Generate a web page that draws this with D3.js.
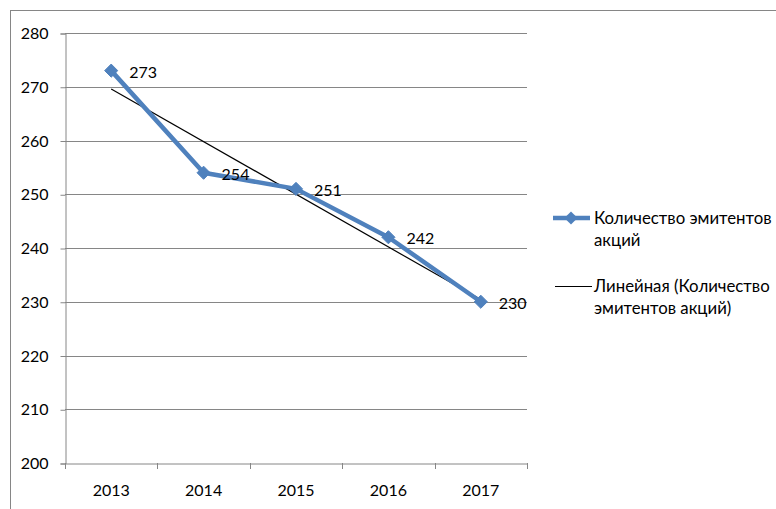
<!DOCTYPE html>
<html>
<head>
<meta charset="utf-8">
<script src="https://cdn.jsdelivr.net/npm/d3@7"></script>
<style>
  body { margin: 0; background: #fff; }
  svg text { font-family: Lato, "Open Sans", sans-serif; fill: #000; }
</style>
</head>
<body>
<script>
var years = ["2013", "2014", "2015", "2016", "2017"];
var issuers = [273, 254, 251, 242, 230];
var yTicks = [200, 210, 220, 230, 240, 250, 260, 270, 280];
var seriesName = ["Количество эмитентов", "акций"];
var trendName = ["Линейная (Количество", "эмитентов акций)"];

var width = 776,
    height = 509,
    plotLeft = 65,
    plotRight = 527,
    plotTop = 33,
    plotBottom = 463,
    fontSize = 16,
    legendFont = 16.8;

var svg = d3.select("body")
    .append("svg")
    .attr("width", width)
    .attr("height", height);

// chart border (runs past the right and bottom edge)
svg.append("rect")
    .attr("x", 10.5)
    .attr("y", 10.5)
    .attr("width", 800)
    .attr("height", 600)
    .style("fill", "none")
    .style("stroke", "#868686")
    .style("stroke-width", 1);

var x = d3.scaleBand()
    .domain(years)
    .range([plotLeft, plotRight]);

var y = d3.scaleLinear()
    .domain([200, 280])
    .range([plotBottom, plotTop]);

// gridlines
svg.selectAll(".grid")
    .data(yTicks.slice(1))
    .enter()
    .append("line")
    .attr("class", "grid")
    .attr("x1", plotLeft)
    .attr("x2", plotRight)
    .attr("y1", function (d) { return Math.round(y(d)) + 0.5; })
    .attr("y2", function (d) { return Math.round(y(d)) + 0.5; })
    .style("stroke", "#868686")
    .style("stroke-width", 1);

// y axis
var yAxis = svg.append("g")
    .attr("transform", "translate(" + (plotLeft + 0.5) + ",0.5)")
    .call(d3.axisLeft(y).tickValues(yTicks).tickSize(5).tickPadding(12));

// x axis
var xAxis = svg.append("g")
    .attr("transform", "translate(0," + (plotBottom + 0.5) + ")")
    .call(d3.axisBottom(x).tickSize(0).tickPadding(21));

// x ticks at category boundaries
svg.selectAll(".xtick")
    .data(d3.range(years.length + 1))
    .enter()
    .append("line")
    .attr("class", "xtick")
    .attr("x1", function (i) { return Math.round(plotLeft + i * x.step()) + 0.5; })
    .attr("x2", function (i) { return Math.round(plotLeft + i * x.step()) + 0.5; })
    .attr("y1", plotBottom)
    .attr("y2", plotBottom + 6)
    .style("stroke", "#868686");

[yAxis, xAxis].forEach(function (g) {
    g.select(".domain").style("stroke", "#868686");
    g.selectAll(".tick line").style("stroke", "#868686");
    g.selectAll("text")
        .style("font-size", fontSize + "px")
        .style("font-family", "Lato, 'Open Sans', sans-serif");
});

var cx = function (i) { return x(years[i]) + x.bandwidth() / 2; };

// linear trend (least squares over category index)
var n = issuers.length,
    xs = d3.range(1, n + 1),
    mx = d3.mean(xs),
    my = d3.mean(issuers),
    sxy = d3.sum(xs, function (v, i) { return (v - mx) * (issuers[i] - my); }),
    sxx = d3.sum(xs, function (v) { return (v - mx) * (v - mx); }),
    slope = sxy / sxx,
    icpt = my - slope * mx;

svg.append("line")
    .attr("x1", cx(0))
    .attr("y1", y(icpt + slope * 1))
    .attr("x2", cx(n - 1))
    .attr("y2", y(icpt + slope * n))
    .style("stroke", "#000")
    .style("stroke-width", 1.2);

// series line
var line = d3.line()
    .x(function (d, i) { return cx(i); })
    .y(function (d) { return y(d); });

svg.append("path")
    .datum(issuers)
    .attr("d", line)
    .style("fill", "none")
    .style("stroke", "#4F81BD")
    .style("stroke-width", 4.5)
    .style("stroke-linejoin", "round");

var diamond = d3.symbol().type(d3.symbolDiamond2).size(110);

svg.selectAll(".marker")
    .data(issuers)
    .enter()
    .append("path")
    .attr("class", "marker")
    .attr("d", diamond)
    .attr("transform", function (d, i) { return "translate(" + cx(i) + "," + y(d) + ")"; })
    .style("fill", "#4F81BD")
    .style("stroke", "#4F81BD");

// data labels
svg.selectAll(".label")
    .data(issuers)
    .enter()
    .append("text")
    .attr("class", "label")
    .attr("x", function (d, i) { return cx(i) + 18; })
    .attr("y", function (d) { return y(d) + 7; })
    .style("font-size", fontSize + "px")
    .text(function (d) { return d; });

// legend
var legend = svg.append("g");

legend.append("line")
    .attr("x1", 553).attr("x2", 590)
    .attr("y1", 218).attr("y2", 218)
    .style("stroke", "#4F81BD")
    .style("stroke-width", 4.5);

legend.append("path")
    .attr("d", diamond)
    .attr("transform", "translate(571,218)")
    .style("fill", "#4F81BD");

legend.selectAll(".s1")
    .data(seriesName)
    .enter()
    .append("text")
    .attr("x", 594)
    .attr("y", function (d, i) { return 224 + i * 22; })
    .style("font-size", legendFont + "px")
    .text(function (d) { return d; });

legend.append("line")
    .attr("x1", 555).attr("x2", 592)
    .attr("y1", 286.5).attr("y2", 286.5)
    .style("stroke", "#000")
    .style("stroke-width", 1.2);

legend.selectAll(".s2")
    .data(trendName)
    .enter()
    .append("text")
    .attr("x", 594)
    .attr("y", function (d, i) { return 292 + i * 22; })
    .style("font-size", legendFont + "px")
    .text(function (d) { return d; });
</script>
</body>
</html>
